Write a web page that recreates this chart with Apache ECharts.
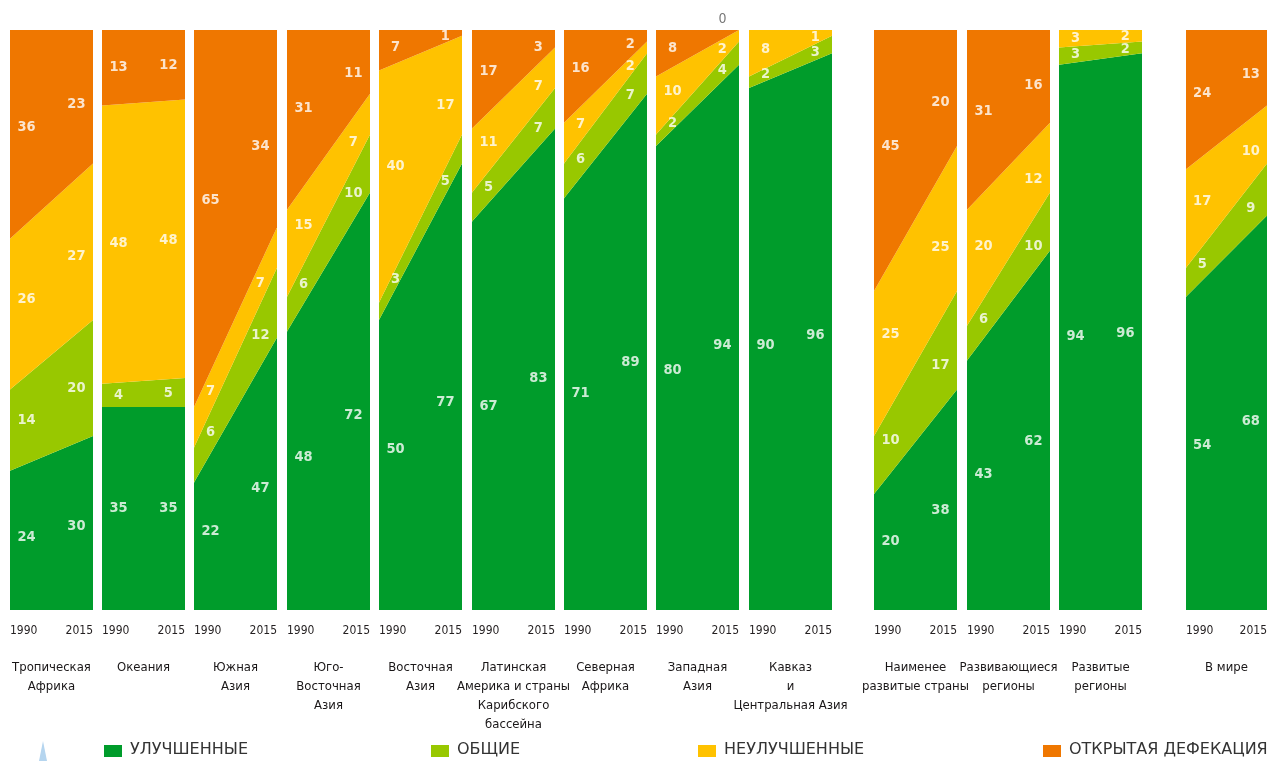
<!DOCTYPE html>
<html><head><meta charset="utf-8">
<script src="https://cdn.jsdelivr.net/npm/echarts@6/dist/echarts.min.js"></script>
<style>html,body{margin:0;padding:0;background:#fff}#c{width:1270px;height:761px}</style>
</head><body><div id="c"></div>
<script>
const categories = ['Тропическая\nАфрика','Океания','Южная\nАзия','Юго-\nВосточная\nАзия','Восточная\nАзия','Латинская\nАмерика и страны\nКарибского\nбассейна','Северная\nАфрика','Западная\nАзия','Кавказ\nи\nЦентральная Азия','Наименее\nразвитые страны','Развивающиеся\nрегионы','Развитые\nрегионы','В мире'];
const years = ['1990', '2015'];
const seriesNames = ['УЛУЧШЕННЫЕ','ОБЩИЕ','НЕУЛУЧШЕННЫЕ','ОТКРЫТАЯ ДЕФЕКАЦИЯ'];
const improved1990   = [24,35,22,48,50,67,71,80,90,20,43,94,54];
const improved2015   = [30,35,47,72,77,83,89,94,96,38,62,96,68];
const shared1990     = [14,4,6,6,3,5,6,2,2,10,6,3,5];
const shared2015     = [20,5,12,10,5,7,7,4,3,17,10,2,9];
const unimproved1990 = [26,48,7,15,40,11,7,10,8,25,20,3,17];
const unimproved2015 = [27,48,7,7,17,7,2,2,1,25,12,2,10];
const openDef1990    = [36,13,65,31,7,17,16,8,0,45,31,0,24];
const openDef2015    = [23,12,34,11,1,3,2,0,0,20,16,0,13];
const shownZeroPanels = ['Западная\nАзия'];

const colors = ['#009c2b','#98c800','#ffc200','#ef7700'];
const panelLeft = [10,102,194,287,379,472,564,656,749,874,967,1059,1186];
const panelW = 83, gridTop = 30, gridH = 580;
const FONT = "'Liberation Sans Narrow','DejaVu Sans Condensed','Noto Sans',sans-serif";

const vals1990 = [improved1990, shared1990, unimproved1990, openDef1990];
const vals2015 = [improved2015, shared2015, unimproved2015, openDef2015];

const grid = [], xAxis = [], yAxis = [], series = [];
categories.forEach((cat, p) => {
  grid.push({left: panelLeft[p], top: gridTop, width: panelW, height: gridH, containLabel: false});
  xAxis.push({type:'category', gridIndex:p, data:years, boundaryGap:false, position:'bottom',
    axisLine:{show:false}, axisTick:{show:false}, splitLine:{show:false},
    axisLabel:{show:true, interval:0, margin:15, color:'#231f20', fontSize:12, fontFamily:FONT,
      alignMinLabel:'left', alignMaxLabel:'right'},
    name: cat, nameLocation:'middle', nameGap:48,
    nameTextStyle:{color:'#1a1718', fontSize:13, fontFamily:FONT, lineHeight:19, verticalAlign:'top', align:'center'}
  });
  xAxis.push({type:'value', gridIndex:p, min:0, max:1, show:false, position:'top'});
  yAxis.push({type:'value', gridIndex:p, min:0, max:100, show:false});
  for (let s = 0; s < 4; s++) {
    series.push({type:'line', name: seriesNames[s], xAxisIndex:2*p, yAxisIndex:p, stack:'st'+p,
      symbol:'none', showSymbol:false, lineStyle:{width:0, color:colors[s]}, areaStyle:{color:colors[s], opacity:1},
      itemStyle:{color:colors[s]}, silent:true, animation:false,
      data: [vals1990[s][p], vals2015[s][p]]});
  }
  const labelData = [];
  [0.2, 0.8].forEach((t, k) => {
    let base0 = 0, base1 = 0;
    for (let s = 0; s < 4; s++) {
      const a = vals1990[s][p], b = vals2015[s][p];
      const lo = base0 + (base1 - base0) * t;
      const hi = (base0 + a) + ((base1 + b) - (base0 + a)) * t;
      base0 += a; base1 += b;
      const v = k === 0 ? a : b;
      if (v === 0) {
        if (k === 1 && s === 3 && shownZeroPanels.includes(cat)) {
          labelData.push({value:[t, 100, v], label:{position:'top', distance:4, color:'#555', fontWeight:'normal', fontSize:14}});
        }
        continue;
      }
      labelData.push({value:[t, (lo + hi) / 2, v]});
    }
  });
  series.push({type:'scatter', xAxisIndex:2*p+1, yAxisIndex:p, symbolSize:0, silent:true, animation:false,
    data: labelData, z:5, itemStyle:{color:'transparent'},
    label:{show:true, position:'inside', color:'#ffffff', fontWeight:'bold', fontSize:14.5, fontFamily:FONT,
      textBorderWidth:0, textBorderColor:'transparent', textShadowBlur:0,
      formatter: d => String(d.value[2])}});
});

const legendLeft = [104, 431, 698, 1043];
const graphic = [{type:'polygon', shape:{points:[[43,741],[39,761],[47,761]]}, style:{fill:'#b5d5ef'}}];
seriesNames.forEach((n, i) => {
  graphic.push({type:'rect', left: legendLeft[i], top: 745, shape:{width:18, height:12}, style:{fill:colors[i]}});
  graphic.push({type:'text', left: legendLeft[i] + 26, top: 742,
    style:{text:n, fill:'#333', font:"16px 'DejaVu Sans','Noto Sans',sans-serif"}});
});

const chart = echarts.init(document.getElementById('c'), null, {renderer:'canvas'});
chart.setOption({
  animation:false,
  grid, xAxis, yAxis, series, graphic
});
</script></body></html>
